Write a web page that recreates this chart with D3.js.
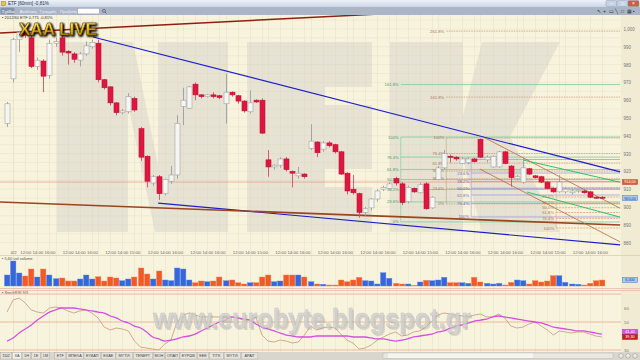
<!DOCTYPE html>
<html>
<head>
<meta charset="utf-8">
<script src="https://cdn.jsdelivr.net/npm/d3@7/dist/d3.min.js"></script>
<style>
  body { margin: 0; background: #f8f3dd; }
  svg { display: block; font-family: "Liberation Sans", Arial, sans-serif; }
</style>
</head>
<body>
<svg id="svg" width="640" height="360"></svg>
<script>
// 60 min candles (price units)
var opens = [947, 972, 994, 997.5, 995, 979, 982, 974, 992, 995,
  987.5, 986, 982.5, 986, 990, 992, 971.5, 967.5, 958.5, 953,
  953.5, 961, 944, 928.5, 913.5, 917, 907.5, 914.5, 918, 956.5,
  955.5, 969, 963, 962, 963, 962.5, 958, 964.5, 962.5, 959.5,
  953.5, 960, 960, 926.5, 922.5, 923.5, 927, 920, 917.5, 918.5,
  933, 936.5, 932.5, 936, 935, 931, 919, 910, 907.5, 897,
  899.5, 904.5, 910, 910.5, 916, 913, 903, 910.5, 908, 913,
  899.5, 915.5, 922, 928.5, 928, 924.5, 925, 927, 938, 926.5,
  922.5, 922.5, 931, 923, 916, 914, 921.5, 917.5, 917, 914,
  910.5, 908.5, 908.5, 908, 909, 909, 908.5, 905.5, 905.5];
var highs = [959, 995, 999, 999, 997, 984, 983, 994, 995, 998,
  988, 987, 987, 993, 994, 994, 972, 968, 959, 955,
  964, 962, 945, 929, 918, 918, 916, 923, 951.5, 967,
  968, 970, 963.5, 963.5, 964.5, 963, 975, 965, 963, 960,
  965.5, 960.5, 961, 932, 924, 928, 928, 920.5, 922.5, 919,
  946.5, 937, 937, 937, 935.5, 931.5, 919.5, 918, 908, 900,
  905, 910, 912, 914, 917, 914, 912, 911, 913.5, 914,
  906, 923, 932, 929.5, 928.5, 928, 928, 927.5, 938.5, 929,
  929, 931.5, 931.5, 923.5, 918, 928, 922, 918, 917.5, 914.5,
  911, 918, 911, 910, 910, 909.5, 909, 906, 906];
var lows = [945, 970, 987, 995, 978, 977, 964.5, 972, 990, 985,
  980, 981, 979, 985, 989, 970, 966, 957, 951.5, 952,
  952.5, 953.5, 926, 911, 912, 904, 906.5, 913, 916, 946,
  955, 960, 961, 961.5, 961, 960.5, 947, 962, 958, 953,
  952.5, 958.5, 941, 917, 921, 922, 920, 911, 916, 916,
  932, 928, 931, 933.5, 930, 918, 907, 907, 894, 895,
  898, 903, 909, 910, 912, 901, 902, 908, 907.5, 898.5,
  899, 915, 921, 925, 926, 924, 924, 925, 927.5, 925,
  922, 922, 924, 911.5, 915, 913, 918, 916, 913.5, 910,
  908, 908, 907.5, 907, 908, 907.5, 905, 904.5, 904.5];
var closes = [958, 994, 998, 996.5, 979, 982.5, 973.5, 992, 993, 987,
  986.5, 983, 986, 990.5, 992.5, 971.5, 967, 958.5, 953, 954,
  962, 954.5, 928, 914.5, 917, 907.5, 915.5, 918, 947, 960,
  967.5, 963, 962, 963, 962, 961.5, 964.5, 963, 959.5, 954,
  958.5, 959, 941.5, 922.5, 923.5, 927, 921, 919, 919, 917,
  937, 930.5, 936, 934.5, 931, 918.5, 909, 908, 897, 899,
  904.5, 909, 911, 913, 913.5, 902.5, 911, 908.5, 912.5, 899,
  905.5, 922, 930, 928, 927, 927, 927, 925.5, 928, 928,
  928.5, 931, 924.5, 916.5, 917, 922, 918.5, 916.5, 914, 910.5,
  908.5, 914, 910, 909, 909.5, 908, 905.5, 905, 905];
// volume, thousands
var volumes = [11, 25, 13, 10, 17, 9, 17, 11, 7.3, 8,
  5, 5, 7, 11, 7, 9.3, 5, 9, 8, 5.3,
  7, 9, 18, 12, 7, 15, 6, 5.3, 18, 17,
  6, 3.3, 5, 4.3, 5, 9, 5.3, 6, 3.3, 2,
  3.3, 3.3, 9, 11, 4.3, 5, 11, 11, 11, 9,
  4.3, 2, 1.7, 1, 1, 6, 4.3, 6, 8.7, 5.3,
  5, 2, 13.3, 7.7, 2.7, 2, 2, 0.7, 4, 5.7,
  5.3, 6, 8.7, 3.3, 3.3, 3.3, 2.7, 8.7, 4, 2.7,
  2, 2.7, 1, 3.7, 6, 5.3, 2, 5.3, 4, 5,
  10.3, 10.3, 3.7, 2, 1.7, 1, 2.7, 5.3, 6];
// StochRSI 9/3
var stochK = [57.1, 65.7, 67.1, 63.6, 58.6, 57.1, 56.4, 60, 60.7, 60,
  57.9, 56.4, 57.9, 58.6, 56.4, 52.9, 46.4, 44.3, 45.7, 45,
  43.6, 36.4, 32.1, 31.4, 30.7, 30, 34.3, 37.1, 50, 55,
  56.4, 55, 53.6, 53.6, 53.6, 53.6, 53.6, 53.6, 52.9, 51.4,
  51.4, 53.6, 40.7, 36.4, 35.7, 37.1, 36.4, 35, 35.7, 40.7,
  47.1, 44.3, 45.7, 46.4, 45.7, 41.4, 37.1, 35, 30.7, 31.4,
  33.6, 37.1, 39.3, 41.4, 42.9, 40, 40.7, 42.9, 43.6, 46.4,
  50.7, 55, 56.4, 55.7, 55, 54.3, 53.6, 55, 55.7, 53.6,
  53.6, 55.7, 52.9, 47.1, 45.7, 46.4, 48.6, 50, 47.1, 44.3,
  40.7, 43.6, 42.9, 42.1, 42.9, 42.9, 41.4, 40, 39.3];
var stochD = [36.4, 38.6, 42.1, 45, 47.9, 51.4, 54.3, 57.1, 58.6, 60,
  60, 60, 59.3, 58.6, 57.9, 57.1, 56.4, 54.3, 52.9, 50.7,
  49.3, 47.1, 45.7, 42.9, 39.3, 37.9, 36.4, 37.1, 37.9, 39.3,
  40, 41.4, 43.6, 45.7, 47.9, 50, 51.4, 53.6, 52.9, 52.1,
  51.4, 48.6, 46.4, 45, 43.6, 42.1, 40.7, 40, 39.3, 39.3,
  39.3, 40, 40, 40, 40, 40, 40, 39.3, 39.3, 39.3,
  38.6, 37.9, 37.9, 37.1, 36.4, 37.1, 37.9, 39.3, 40, 40.7,
  41.4, 42.9, 43.6, 45.7, 47.1, 47.9, 49.3, 50.7, 51.4, 52.1,
  53.6, 54.3, 53.6, 52.9, 52.1, 51.4, 50.7, 50, 49.3, 47.9,
  46.4, 45.7, 45, 44.3, 43.6, 43.6, 42.9, 42.1, 41.4];

var priceTicks = [880, 890, 900, 910, 920, 930, 940, 950, 960, 970, 980, 990, 1000];
var oscTicks = [30, 50, 60];
var oscLevels = [30, 50, 70];
var lastDayHour = ["16:00", "16:00", "15:00", "16:00", "16:00", "15:00", "16:00",
  "16:00", "16:00", "15:00", "16:00", "16:00", "15:00", "16:00"];
var refLine = 914;

// drawn tools: [candle index, price]
var trendNames = ["resist", "support", "longTop", "longBottom", "chanTop", "chanBottom", "greenTop", "greenBottom"];
var trendFrom = [[14.17, 995.5], [24.9, 902.2], [-1.15, 997.75], [-1.15, 902.8], [78.75, 938.8], [77.9, 921.3], [85, 926.4], [85.67, 908.4]];
var trendTo = [[101, 919.7], [101, 878.7], [101, 1015.2], [101, 889.9], [101, 899.3], [101, 880.4], [101, 913.9], [101, 894.3]];

var fibNames = ["green", "brown", "violet", "orange"];
var fibStart = [64.7, 72.2, 76.3, 90.3];
var fibZero = [891.6, 901.7, 926.7, 911.0];
var fibFull = [939.3, 938.8, 894.4, 888.2];
var fibLevels = [
  [0, 23.6, 38.2, 50, 61.8, 76.4, 100, 161.8],
  [0, 23.6, 38.2, 50, 61.8, 76.4, 100, 161.8, 261.8],
  [0, 23.6, 38.2, 50, 61.8, 76.4, 100],
  [0, 23.6, 38.2, 50, 61.8, 76.4, 100]
];

var menuItems = ["Σχέδιο", "Ανάλυση", "Γραμμές", "Προβολή"];
var tabs = ["ΣΩΖ", "ΧΑ", "1Η", "1Ε", "1Μ", "ETF", "ΜΠΕΛΑ", "ΕΥΔΑΠ", "ΕΧΑΕ", "ΜΥΤΙΛ", "ΤΕΝΕΡΓ", "ΜΟΗ", "ΟΠΑΠ", "ΕΥΡΩΒ", "ΕΕΕ", "ΤΙΤΚ", "ΜΥΤΙΛ", "ΑΡΑΙΓ"];

// ---------------------------------------------------------------
var svg = d3.select("#svg");
var plotRight = 621;
var n = opens.length;
var idx = d3.range(n);

var x = d3.scaleLinear().domain([0, 98]).range([7, 601.9]);
var y = d3.scaleLinear().domain([880, 1000]).range([242.6, 29]);
var yVol = d3.scaleLinear().domain([0, 27]).range([286, 259]);
var yOsc = d3.scaleLinear().domain([30, 70]).range([350, 294]);

var defs = svg.append("defs");
defs.append("clipPath").attr("id", "clipPrice").append("rect")
  .attr("x", 0).attr("y", 15).attr("width", plotRight).attr("height", 233);
defs.append("clipPath").attr("id", "clipOsc").append("rect")
  .attr("x", 0).attr("y", 290).attr("width", plotRight).attr("height", 62);

var tg = defs.append("linearGradient").attr("id", "titleGrad").attr("x1", 0).attr("y1", 0).attr("x2", 0).attr("y2", 1);
tg.append("stop").attr("offset", 0).attr("stop-color", "#eef2f8");
tg.append("stop").attr("offset", 1).attr("stop-color", "#cbd6e6");
var gold = defs.append("linearGradient").attr("id", "gold").attr("x1", 0).attr("y1", 0).attr("x2", 0).attr("y2", 1);
gold.append("stop").attr("offset", 0).attr("stop-color", "#fff2a0");
gold.append("stop").attr("offset", 0.45).attr("stop-color", "#f2c21c");
gold.append("stop").attr("offset", 1).attr("stop-color", "#9a6a00");
var sh = defs.append("filter").attr("id", "shadow").attr("x", "-20%").attr("y", "-40%").attr("width", "140%").attr("height", "180%");
sh.append("feGaussianBlur").attr("in", "SourceAlpha").attr("stdDeviation", 1.3).attr("result", "b");
sh.append("feOffset").attr("in", "b").attr("dx", 1).attr("dy", 1.2).attr("result", "o");
var mg = sh.append("feMerge");
mg.append("feMergeNode").attr("in", "o");
mg.append("feMergeNode").attr("in", "o");
mg.append("feMergeNode").attr("in", "SourceGraphic");

// backgrounds
svg.append("rect").attr("width", 640).attr("height", 360).attr("fill", "#f8f3dd");
svg.append("rect").attr("x", plotRight).attr("y", 15).attr("width", 640 - plotRight).attr("height", 337).attr("fill", "#f1ebd4");

// big NEK watermark
var wm = svg.append("g").attr("clip-path", "url(#clipPrice)");
var letters = [
  [[57, 42], [228, 42], [228, 232], [57, 232]],
  [[247, 42], [372, 42], [372, 232], [247, 232]],
  [[390, 42], [463, 42], [463, 115], [482, 42], [560, 42], [510, 137], [560, 232], [482, 232], [463, 160], [463, 232], [390, 232]]
];
var holes = [
  [[133, 42], [158, 42], [158, 165]],
  [[128, 105], [155, 232], [128, 232]],
  [[325, 87], [372, 87], [372, 105], [325, 105]],
  [[325, 169], [372, 169], [372, 187], [325, 187]]
];
wm.selectAll("polygon.l").data(letters).enter().append("polygon")
  .attr("points", function(d) { return d.join(" "); }).attr("fill", "#e7e3d4");
wm.selectAll("polygon.h").data(holes).enter().append("polygon")
  .attr("points", function(d) { return d.join(" "); }).attr("fill", "#f8f3dd");

// time ticks
var timeTicks = [[1, "4/2"]];
lastDayHour.forEach(function(h, d) {
  timeTicks.push([3 + 7 * d, "12:00"], [5 + 7 * d, "14:00"], [7 + 7 * d, h]);
});
var gridIdx = timeTicks.map(function(t) { return t[0]; });
lastDayHour.forEach(function(h, d) { gridIdx.push(1 + 7 * d); });

// grid
var grid = svg.append("g").attr("stroke", "#d8ccaa").attr("stroke-opacity", 0.35).attr("stroke-width", 0.6);
grid.selectAll("line.v").data(gridIdx).enter().append("line")
  .attr("x1", function(d) { return Math.round(x(d)) + 0.5; })
  .attr("x2", function(d) { return Math.round(x(d)) + 0.5; })
  .attr("y1", 15).attr("y2", 352);
grid.selectAll("line.h").data(d3.range(880, 1010, 5)).enter().append("line")
  .attr("x1", 0).attr("x2", plotRight)
  .attr("y1", function(d) { return y(d); }).attr("y2", function(d) { return y(d); });

// pane separators
svg.append("line").attr("x1", 0).attr("x2", 640).attr("y1", 255.5).attr("y2", 255.5).attr("stroke", "#d9cfb0").attr("stroke-width", 0.8);
svg.append("line").attr("x1", 0).attr("x2", 640).attr("y1", 288.5).attr("y2", 288.5).attr("stroke", "#e6b9a4").attr("stroke-width", 0.8);
svg.append("line").attr("x1", 0).attr("x2", 640).attr("y1", 290.5).attr("y2", 290.5).attr("stroke", "#e6b9a4").attr("stroke-width", 0.8);

// price pane content
var pane = svg.append("g").attr("clip-path", "url(#clipPrice)");

pane.append("line").attr("x1", 0).attr("x2", plotRight)
  .attr("y1", y(refLine)).attr("y2", y(refLine))
  .attr("stroke", "#e59a84").attr("stroke-width", 0.7);

// fibonacci tools
var fibLine = { green: "#72cf98", brown: "#c99b7b", violet: "#a29ce2", orange: "#dfa473" };
var fibText = { green: "#3c9c60", brown: "#a8705a", violet: "#6d66c4", orange: "#b9783d" };
var fibDash = { green: null, brown: "1.5,1", violet: null, orange: "2,1" };
fibNames.forEach(function(name, g) {
  var span = fibFull[g] - fibZero[g];
  var lv = fibLevels[g];
  var fg = pane.append("g");
  fg.selectAll("line").data(lv).enter().append("line")
    .attr("x1", x(fibStart[g]) + 1).attr("x2", x(101))
    .attr("y1", function(d) { return y(fibZero[g] + span * d / 100); })
    .attr("y2", function(d) { return y(fibZero[g] + span * d / 100); })
    .attr("stroke", fibLine[name]).attr("stroke-width", 0.8)
    .attr("stroke-dasharray", fibDash[name]);
  fg.append("line")
    .attr("x1", x(fibStart[g]) + 1).attr("x2", x(fibStart[g]) + 1)
    .attr("y1", y(fibZero[g])).attr("y2", y(fibFull[g]))
    .attr("stroke", fibLine[name]).attr("stroke-width", 0.6);
  fg.selectAll("text").data(lv).enter().append("text")
    .attr("x", x(fibStart[g]) - 1)
    .attr("y", function(d) { return y(fibZero[g] + span * d / 100) + 1.5; })
    .attr("text-anchor", "end").attr("font-size", 4.2).attr("fill", fibText[name])
    .text(function(d) { return d === 0 ? "0%" : d === 100 ? "100%" : d.toFixed(1) + "%"; });
});

// trend lines
var trendColor = { resist: "#1c1ccc", support: "#1c1ccc", longTop: "#8e1f0e", longBottom: "#9a4420",
  chanTop: "#b56a3e", chanBottom: "#b56a3e", greenTop: "#2fc16c", greenBottom: "#2fc16c" };
var trendWidth = { resist: 1.2, support: 1.2, longTop: 1.5, longBottom: 1.6,
  chanTop: 0.8, chanBottom: 0.8, greenTop: 1, greenBottom: 1 };
pane.selectAll("line.trend").data(trendNames).enter().append("line")
  .attr("x1", function(d, i) { return x(trendFrom[i][0]); })
  .attr("y1", function(d, i) { return y(trendFrom[i][1]); })
  .attr("x2", function(d, i) { return x(trendTo[i][0]); })
  .attr("y2", function(d, i) { return y(trendTo[i][1]); })
  .attr("stroke", function(d) { return trendColor[d]; })
  .attr("stroke-width", function(d) { return trendWidth[d]; });

// candles
var up = function(i) { return closes[i] >= opens[i]; };
pane.selectAll("line.wick").data(idx).enter().append("line")
  .attr("x1", function(i) { return Math.round(x(i)) + 0.5; })
  .attr("x2", function(i) { return Math.round(x(i)) + 0.5; })
  .attr("y1", function(i) { return y(highs[i]); })
  .attr("y2", function(i) { return y(lows[i]); })
  .attr("stroke", function(i) { return up(i) ? "#9c9c9c" : "#d8486a"; })
  .attr("stroke-width", 0.9);
pane.selectAll("rect.body").data(idx).enter().append("rect")
  .attr("x", function(i) { return Math.round(x(i)) - 2; })
  .attr("width", 5)
  .attr("y", function(i) { return y(Math.max(opens[i], closes[i])); })
  .attr("height", function(i) { return Math.max(1, Math.abs(y(opens[i]) - y(closes[i]))); })
  .attr("fill", function(i) { return up(i) ? "#f5f5f3" : "#df1740"; })
  .attr("stroke", function(i) { return up(i) ? "#a3a3a3" : "#c0102f"; })
  .attr("stroke-width", 0.6);

// price axis
var pAxis = svg.append("g").attr("transform", "translate(" + (plotRight + 1) + ",0)")
  .call(d3.axisRight(y).tickValues(priceTicks).tickSize(0).tickPadding(1.5).tickFormat(d3.format(",")));
pAxis.select(".domain").remove();
pAxis.selectAll("text").attr("font-size", 4.5).attr("fill", "#777").attr("font-family", "Liberation Sans, Arial");

// axis tags
function tag(yy, txt, fill, stroke, color) {
  svg.append("rect").attr("x", plotRight + 1.5).attr("y", yy - 2.4).attr("width", 15).attr("height", 4.8)
    .attr("fill", fill).attr("stroke", stroke).attr("stroke-width", 0.5);
  svg.append("text").attr("x", plotRight + 9).attr("y", yy + 1.4).attr("text-anchor", "middle")
    .attr("font-size", 3.8).attr("fill", color).text(txt);
}
tag(y(refLine), "914,00", "#dd5a33", "#b23a1a", "#fff");
tag(y(closes[n - 1]), "905,00", "#a8c8f2", "#3c73c8", "#1d3f80");

// time axis
var tAxis = svg.append("g").attr("transform", "translate(0,248)")
  .call(d3.axisBottom(x).tickValues(timeTicks.map(function(t) { return t[0]; })).tickSize(0).tickPadding(2.5)
    .tickFormat(function(d) { return timeTicks.filter(function(t) { return t[0] === d; })[0][1]; }));
tAxis.select(".domain").remove();
tAxis.selectAll("text").attr("font-size", 4.3).attr("fill", "#666").attr("font-family", "Liberation Sans, Arial");

// volume
svg.append("text").attr("x", 2).attr("y", 259.5).attr("font-size", 4).attr("fill", "#555").text("▪ 5,60 vol volume");
svg.selectAll("rect.vol").data(idx).enter().append("rect")
  .attr("x", function(i) { return Math.round(x(i)) - 2.5; })
  .attr("width", 5.4)
  .attr("y", function(i) { return yVol(volumes[i]); })
  .attr("height", function(i) { return yVol(0) - yVol(volumes[i]); })
  .attr("fill", function(i) { return up(i) ? "#3566dc" : "#f15a28"; })
  .attr("stroke", function(i) { return up(i) ? "#5f8ae8" : "#f5845a"; })
  .attr("stroke-width", 0.4);
tag(yVol(volumes[n - 1]), "6,000", "#a8c8f2", "#3c73c8", "#1d3f80");

// oscillator
svg.append("text").attr("x", 2).attr("y", 294).attr("font-size", 4).attr("fill", "#555").text("▪ StochRSI 9/3");
var osc = svg.append("g").attr("clip-path", "url(#clipOsc)");
osc.selectAll("line.lvl").data(oscLevels).enter().append("line")
  .attr("x1", 0).attr("x2", plotRight)
  .attr("y1", function(d) { return yOsc(d); }).attr("y2", function(d) { return yOsc(d); })
  .attr("stroke", "#e7a990").attr("stroke-width", 0.8);

// eurobyte watermark behind the lines
var wmText = "www.eurobyte.blogspot.gr";
svg.append("text").attr("x", 154.5).attr("y", 329.5).attr("font-size", 27).attr("font-weight", "bold")
  .attr("textLength", 318).attr("lengthAdjust", "spacingAndGlyphs")
  .attr("fill", "#9a9a9a").attr("opacity", 0.35).text(wmText);
svg.append("text").attr("x", 153).attr("y", 328).attr("font-size", 27).attr("font-weight", "bold")
  .attr("textLength", 318).attr("lengthAdjust", "spacingAndGlyphs")
  .attr("fill", "#cfcfcf").attr("stroke", "#bdbdbd").attr("stroke-width", 0.5).attr("opacity", 0.8).text(wmText);

var lineK = d3.line().x(function(d, i) { return x(i); }).y(function(d) { return yOsc(d); });
var lineD = d3.line().x(function(d, i) { return x(i); }).y(function(d) { return yOsc(d); }).curve(d3.curveMonotoneX);
osc.append("path").attr("d", lineK(stochK)).attr("fill", "none").attr("stroke", "#c9a384").attr("stroke-width", 0.9);
osc.append("path").attr("d", lineD(stochD)).attr("fill", "none").attr("stroke", "#d64fe2").attr("stroke-width", 1.3);

var oAxis = svg.append("g").attr("transform", "translate(" + (plotRight + 1) + ",0)")
  .call(d3.axisRight(yOsc).tickValues(oscTicks).tickSize(0).tickPadding(2));
oAxis.select(".domain").remove();
oAxis.selectAll("text").attr("font-size", 4.3).attr("fill", "#777").attr("font-family", "Liberation Sans, Arial");
// the two last-value tags sit stacked, as in the terminal
var dTagY = Math.min(yOsc(stochD[n - 1]), yOsc(stochK[n - 1]) - 5);
tag(dTagY, d3.format(".2f")(stochD[n - 1]).replace(".", ","), "#e24ef0", "#a21db0", "#fff");
tag(dTagY + 5, d3.format(".2f")(stochK[n - 1]).replace(".", ","), "#c81e1e", "#8a1010", "#fff");

// legend + logo
svg.append("text").attr("x", 2).attr("y", 18.5).attr("font-size", 4).attr("fill", "#334")
  .text("▪ 2012/60 ETF  0,775  -0,81%");
svg.append("text").attr("x", 19).attr("y", 35).attr("font-size", 17).attr("font-weight", "bold")
  .attr("textLength", 78).attr("lengthAdjust", "spacingAndGlyphs")
  .attr("fill", "url(#gold)").attr("stroke", "#5a3a00").attr("stroke-width", 0.5)
  .attr("filter", "url(#shadow)").text("XAA LIVE");

// window chrome: title bar
svg.append("rect").attr("width", 640).attr("height", 7).attr("fill", "url(#titleGrad)");
svg.append("rect").attr("x", 1.5).attr("y", 1.5).attr("width", 4).attr("height", 4).attr("fill", "#f0c040").attr("stroke", "#8a6a10").attr("stroke-width", 0.4);
svg.append("text").attr("x", 8).attr("y", 5.4).attr("font-size", 4.6).attr("fill", "#253048").text("ETF [60min] -0,81%");
var winBtn = [[606, "#c6d3e4", "‒"], [617, "#c6d3e4", "□"], [628, "#d25a45", "×"]];
svg.selectAll("rect.wb").data(winBtn).enter().append("rect")
  .attr("x", function(d) { return d[0]; }).attr("y", 0.5).attr("width", 11).attr("height", 6)
  .attr("rx", 1).attr("fill", function(d) { return d[1]; }).attr("stroke", "#7f8ea6").attr("stroke-width", 0.4);
svg.selectAll("text.wb").data(winBtn).enter().append("text")
  .attr("x", function(d) { return d[0] + 5.5; }).attr("y", 5.4).attr("text-anchor", "middle")
  .attr("font-size", 5).attr("fill", "#fff").text(function(d) { return d[2]; });

// menu bar
svg.append("rect").attr("y", 7).attr("width", 640).attr("height", 8).attr("fill", "#aab6c6");
svg.append("rect").attr("x", 0.5).attr("y", 7.8).attr("width", 14).attr("height", 6.4).attr("rx", 1).attr("fill", "#8593aa");
var mx = 2;
menuItems.forEach(function(m, i) {
  svg.append("text").attr("x", mx).attr("y", 12.6).attr("font-size", 4.3).attr("fill", i === 0 ? "#fff" : "#eef1f6").text(m);
  mx += m.length * 2.3 + 4;
});
svg.append("rect").attr("x", 77.5).attr("y", 8.3).attr("width", 22).attr("height", 5.6).attr("fill", "#fff").attr("stroke", "#7c8799").attr("stroke-width", 0.4);
svg.append("circle").attr("cx", 104).attr("cy", 10.8).attr("r", 1.5).attr("fill", "none").attr("stroke", "#334").attr("stroke-width", 0.5);
svg.append("line").attr("x1", 105).attr("y1", 12).attr("x2", 106.5).attr("y2", 13.5).attr("stroke", "#334").attr("stroke-width", 0.6);
var tools = ["↖", "+", "▭", "╲", "□", "▦", "▪"];
svg.selectAll("text.tool").data(tools).enter().append("text")
  .attr("x", function(d, i) { return 597 + i * 6; }).attr("y", 13.2).attr("font-size", 5).attr("fill", "#333")
  .text(function(d) { return d; });

// bottom tab bar
svg.append("rect").attr("y", 352).attr("width", 640).attr("height", 8).attr("fill", "#d9d6ce");
var tx = 0.5;
tabs.forEach(function(t, i) {
  var w = t.length * 2.6 + 3.5;
  if (i === 5) tx += 4;
  svg.append("rect").attr("x", tx).attr("y", 352.5).attr("width", w).attr("height", 6.5)
    .attr("fill", i === 1 ? "#f4f2ec" : "#e6e3dc").attr("stroke", "#a9a59c").attr("stroke-width", 0.4);
  svg.append("text").attr("x", tx + w / 2).attr("y", 357.3).attr("text-anchor", "middle")
    .attr("font-size", 3.8).attr("fill", "#444").text(t);
  tx += w + 0.8;
});
svg.append("rect").attr("x", 383).attr("y", 353).attr("width", 230).attr("height", 5.5).attr("fill", "#e9e7e0").attr("stroke", "#b3afa6").attr("stroke-width", 0.4);
svg.append("rect").attr("x", 388).attr("y", 353.5).attr("width", 145).attr("height", 4.5).attr("fill", "#f6f5f1");
svg.selectAll("circle.nav").data([621, 628, 635]).enter().append("circle")
  .attr("cx", function(d) { return d; }).attr("cy", 355.8).attr("r", 2.3)
  .attr("fill", "#ecebe6").attr("stroke", "#777").attr("stroke-width", 0.4);
</script>
</body>
</html>
